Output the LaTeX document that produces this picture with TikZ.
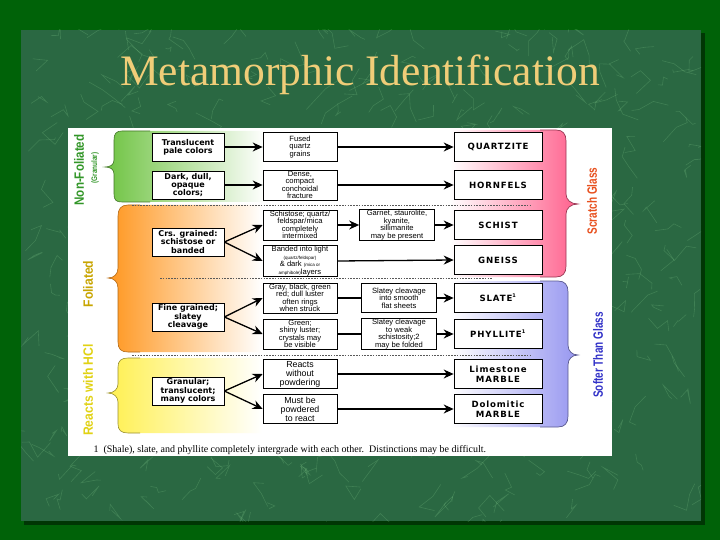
\documentclass[tikz,border=0pt]{standalone}
\usepackage{fontspec}
\setmainfont{Liberation Sans}
\newfontfamily\titlefont{Liberation Serif}
\newfontfamily\widefont{DejaVu Sans}[LetterSpace=10]
\newfontfamily\heavyfont{DejaVu Sans}
\newcommand\narrowtxt[2][0.72]{\scalebox{#1}[1]{#2}}
\usetikzlibrary{arrows.meta}
\definecolor{outergreen}{RGB}{0,98,8}
\definecolor{marble}{RGB}{42,104,66}
\definecolor{titlecol}{RGB}{240,205,120}
\definecolor{bandgreen}{RGB}{110,195,65}
\definecolor{bandorange}{RGB}{255,150,30}
\definecolor{bandyellow}{RGB}{255,240,80}
\definecolor{bandpink}{RGB}{255,95,140}
\definecolor{bandblue}{RGB}{150,150,240}
\definecolor{nfgreen}{RGB}{50,150,40}
\definecolor{folgold}{RGB}{200,165,0}
\definecolor{hclyellow}{RGB}{225,210,20}
\definecolor{scratchcol}{RGB}{232,80,30}
\definecolor{softcol}{RGB}{50,50,200}
\tikzset{
  box/.style={draw=black, line width=0.7pt, fill=white, inner sep=1pt, align=center},
  colA/.style={box, minimum width=72pt, minimum height=28pt, font=\heavyfont\bfseries\fontsize{8}{8.3}\selectfont},
  colB/.style={box, minimum width=74pt, minimum height=29pt, font=\fontsize{7.6}{7.5}\selectfont},
  colC/.style={box, minimum width=75pt, minimum height=29pt, font=\fontsize{7.6}{7.5}\selectfont},
  colD/.style={box, minimum width=88pt, minimum height=29pt, font=\widefont\bfseries\fontsize{8.6}{9.5}\selectfont},
  arr/.style={-{Stealth[length=10pt,width=9pt]}, line width=1.3pt},
  link/.style={line width=1.3pt},
  sep/.style={draw=black!65, line width=0.6pt, dash pattern=on 1.6pt off 1.2pt},
  sidelabel/.style={rotate=90, inner sep=0pt, font=\bfseries\fontsize{13.5}{13.5}\selectfont}
}
\begin{document}
\begin{tikzpicture}[x=1pt,y=-1pt]
\useasboundingbox (0,0) rectangle (720,540);
% background
\fill[outergreen] (0,0) rectangle (720,540);
\fill[black!45!outergreen] (24,33) rectangle (705,525);
\fill[marble] (21,30) rectangle (701,521);
\begin{scope}
\clip (21,30) rectangle (701,521);
\pgfmathsetseed{7}
\foreach \i in {1,...,420}{
  \pgfmathsetmacro\xa{361+345*rand}
  \pgfmathsetmacro\ya{276+250*rand}
  \draw[white!70!green, opacity=0.16, line width=0.6pt] (\xa,\ya) -- ++(16*rand,16*rand) -- ++(16*rand,16*rand) -- ++(12*rand,12*rand);
}
\end{scope}
% title
\node[text=titlecol, font=\titlefont\fontsize{43.5}{44}\selectfont] (title) at (360,75) {Metamorphic Identification};
% chart sheet
\fill[white] (68,128) rectangle (612,456);
% left bands
\shade[left color=bandgreen, right color=white] (265,131) -- (122,131) .. controls (116,131) and (114,134) .. (114,140) -- (114,160) .. controls (114,165) and (110,167) .. (105,167) .. controls (110,167) and (114,169) .. (114,174) -- (114,194) .. controls (114,200) and (116,202) .. (122,202) -- (265,202) -- cycle;
\draw[bandgreen!60!black, line width=0.6pt] (150,131) -- (122,131) .. controls (116,131) and (114,134) .. (114,140) -- (114,160) .. controls (114,165) and (110,167) .. (105,167) .. controls (110,167) and (114,169) .. (114,174) -- (114,194) .. controls (114,200) and (116,202) .. (122,202) -- (150,202);
\shade[left color=bandorange, right color=white] (262,205) -- (128,205) .. controls (121,205) and (118,209) .. (118,216) -- (118,268) .. controls (118,274) and (114,278) .. (108,278) .. controls (114,278) and (118,282) .. (118,288) -- (118,342) .. controls (118,349) and (121,352) .. (128,352) -- (262,352) -- cycle;
\draw[bandorange!70!black, line width=0.6pt] (140,205) -- (128,205) .. controls (121,205) and (118,209) .. (118,216) -- (118,268) .. controls (118,274) and (114,278) .. (108,278) .. controls (114,278) and (118,282) .. (118,288) -- (118,342) .. controls (118,349) and (121,352) .. (128,352) -- (140,352);
\shade[left color=bandyellow, right color=white] (262,358) -- (128,358) .. controls (121,358) and (118,361) .. (118,367) -- (118,384) .. controls (118,389) and (114,393) .. (108,393) .. controls (114,393) and (118,397) .. (118,402) -- (118,424) .. controls (118,430) and (121,433) .. (128,433) -- (262,433) -- cycle;
\draw[bandyellow!60!black, line width=0.6pt] (140,358) -- (128,358) .. controls (121,358) and (118,361) .. (118,367) -- (118,384) .. controls (118,389) and (114,393) .. (108,393) .. controls (114,393) and (118,397) .. (118,402) -- (118,424) .. controls (118,430) and (121,433) .. (128,433) -- (140,433);
% right bands
\shade[left color=white, right color=bandpink] (450,130) -- (556,130) .. controls (563,130) and (566,134) .. (566,141) -- (566,194) .. controls (566,200) and (571,204) .. (578,204) .. controls (571,204) and (566,208) .. (566,214) -- (566,266) .. controls (566,273) and (563,277) .. (556,277) -- (450,277) -- cycle;
\draw[bandpink!60!black, line width=0.7pt] (540,130) -- (556,130) .. controls (563,130) and (566,134) .. (566,141) -- (566,194) .. controls (566,200) and (571,204) .. (578,204) .. controls (571,204) and (566,208) .. (566,214) -- (566,266) .. controls (566,273) and (563,277) .. (556,277) -- (540,277);
\shade[left color=white, right color=bandblue] (450,281) -- (558,281) .. controls (565,281) and (568,285) .. (568,292) -- (568,345) .. controls (568,351) and (572,355) .. (578,355) .. controls (572,355) and (568,359) .. (568,365) -- (568,416) .. controls (568,423) and (565,427) .. (558,427) -- (450,427) -- cycle;
\draw[bandblue!60!black, line width=0.7pt] (540,281) -- (558,281) .. controls (565,281) and (568,285) .. (568,292) -- (568,345) .. controls (568,351) and (572,355) .. (578,355) .. controls (572,355) and (568,359) .. (568,365) -- (568,416) .. controls (568,423) and (565,427) .. (558,427) -- (540,427);
% separators
\coordinate (s1a) at (132,205); \coordinate (s1b) at (530,205);
\coordinate (s2a) at (160,278); \coordinate (s2b) at (492,278);
\coordinate (s3a) at (132,355); \coordinate (s3b) at (530,355);
\draw[sep] (s1a) -- (s1b);
\draw[sep] (s2a) -- (s2b);
\draw[sep] (s3a) -- (s3b);
% side labels
\node[sidelabel, text=nfgreen] (lnf) at (79,170) {\narrowtxt[0.86]{Non-Foliated}};
\node[sidelabel, text=nfgreen, font=\bfseries\fontsize{8}{8}\selectfont] (lgr) at (95,168) {\narrowtxt[0.8]{(Granular)}};
\node[sidelabel, text=folgold] (lfo) at (88,284) {\narrowtxt[0.9]{Foliated}};
\node[sidelabel, text=hclyellow] (lhcl) at (88,390) {\narrowtxt[0.9]{Reacts with HCl}};
\node[sidelabel, text=scratchcol] (lsg) at (592,201) {\narrowtxt[0.74]{Scratch Glass}};
\node[sidelabel, text=softcol] (lst) at (598,355) {\narrowtxt[0.74]{Softer Than Glass}};
% column A
\node[colA] (a1) at (188,147) {Translucent\\pale colors};
\node[colA] (a2) at (188,185) {Dark, dull,\\opaque\\colors;};
\node[colA] (a3) at (188,242) {Crs. grained:\\schistose or\\banded};
\node[colA] (a4) at (188,317) {Fine grained;\\slatey\\cleavage};
\node[colA] (a5) at (188,391) {Granular;\\translucent;\\many colors};
% column B
\node[colB] (b1) at (300,147) {Fused\\quartz\\grains};
\node[colB] (b2) at (300,185) {Dense,\\compact\\conchoidal\\fracture};
\node[colB] (b3) at (300,225) {Schistose; quartz/\\feldspar/mica\\completely\\intermixed};
\node[colB] (b4) at (300,261) {Banded into light\\{\fontsize{4.5}{5}\selectfont(quartz/feldspar)}\\\& dark {\fontsize{4.5}{5}\selectfont(mica or}\\{\fontsize{4.5}{5}\selectfont amphibole)}layers};
\node[colB] (b5) at (300,298) {Gray, black, green\\red; dull luster\\often rings\\when struck};
\node[colB] (b6) at (300,334) {Green;\\shiny luster;\\crystals may\\be visible};
\node[colB, font=\fontsize{8.8}{9}\selectfont] (b7) at (300,374) {Reacts\\without\\powdering};
\node[colB, font=\fontsize{8.8}{9}\selectfont] (b8) at (300,409) {Must be\\powdered\\to react};
% column C
\node[colC] (c1) at (397,225) {Garnet, staurolite,\\kyanite,\\sillimanite\\may be present};
\node[colC] (c2) at (399,298) {Slatey cleavage\\into smooth\\flat sheets};
\node[colC] (c3) at (399,334) {Slatey cleavage\\to weak\\schistosity;2\\may be folded};
% column D
\node[colD] (d1) at (498,147) {QUARTZITE};
\node[colD] (d2) at (498,185) {HORNFELS};
\node[colD] (d3) at (498,225) {SCHIST};
\node[colD] (d4) at (498,260) {GNEISS};
\node[colD] (d5) at (498,298) {SLATE\textsuperscript{\fontsize{5}{5}\selectfont 1}};
\node[colD] (d6) at (498,334) {PHYLLITE\textsuperscript{\fontsize{5}{5}\selectfont 1}};
\node[colD] (d7) at (498,374) {Limestone\\MARBLE};
\node[colD] (d8) at (498,409) {Dolomitic\\MARBLE};
% connectors
\draw[arr] (a1.east) -- (b1.west);
\draw[arr] (b1.east) -- (d1.west);
\draw[arr] (a2.east) -- (b2.west);
\draw[arr] (b2.east) -- (d2.west);
\draw[arr] (a3.east) -- (b3.west);
\draw[arr] (a3.east) -- (b4.west);
\draw[arr] (b3.east) -- (c1.west);
\draw[arr] (c1.east) -- (d3.west);
\draw[arr] (b4.east) -- (d4.west);
\draw[arr] (a4.east) -- (b5.west);
\draw[arr] (a4.east) -- (b6.west);
\draw[link] (b5.east) -- (c2.west);
\draw[link] (b6.east) -- (c3.west);
\draw[arr] (c2.east) -- (d5.west);
\draw[arr] (c3.east) -- (d6.west);
\draw[arr] (a5.east) -- (b7.west);
\draw[arr] (a5.east) -- (b8.west);
\draw[arr] (b7.east) -- (d7.west);
\draw[arr] (b8.east) -- (d8.west);
% footnote
\node[anchor=west, font=\titlefont\fontsize{10}{10}\selectfont] (fn) at (90,450) {1\enspace (Shale), slate, and phyllite completely intergrade with each other.\enspace Distinctions may be difficult.};
\end{tikzpicture}
\end{document}
